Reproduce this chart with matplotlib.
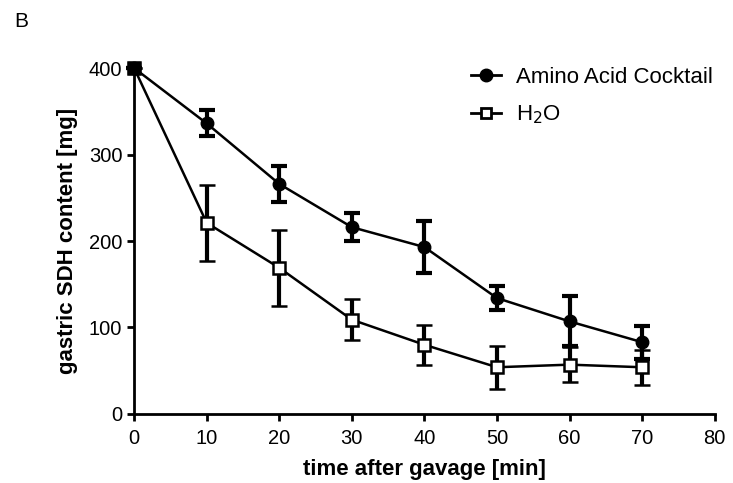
import matplotlib.pyplot as plt
from matplotlib.lines import Line2D

plt.rcParams['font.family'] = ['Liberation Sans', 'DejaVu Sans']

time_min = [0, 10, 20, 30, 40, 50, 60, 70]
amino = [400, 336, 266, 216, 193, 134, 107, 83]
amino_err = [0, 15, 21, 16, 30, 14, 29, 19]
water = [400, 221, 169, 109, 80, 54, 57, 54]
water_err = [0, 44, 44, 24, 23, 25, 20, 20]

fig = plt.figure(figsize=(7.33, 4.83), dpi=100)
ax = fig.add_axes([0.183, 0.143, 0.792, 0.716])

ax.errorbar(time_min, water, yerr=water_err, color='black', lw=1.8,
            elinewidth=3, capsize=6, capthick=3, marker='s', ms=8,
            mfc='white', mec='black', mew=1.8, clip_on=False, zorder=3)
ax.errorbar(time_min, amino, yerr=amino_err, color='black', lw=1.8,
            elinewidth=3, capsize=6, capthick=3, marker='o', ms=9,
            mfc='black', mec='black', clip_on=False, zorder=4)
# filled square at t=0 as in the original
ax.plot([0], [400], marker='s', ms=9, color='black', clip_on=False, zorder=5)

ax.set_xlim(0, 80)
ax.set_ylim(0, 400)
ax.set_xticks(range(0, 81, 10))
ax.set_yticks(range(0, 401, 100))
for s in ['top', 'right']:
    ax.spines[s].set_visible(False)
for s in ['left', 'bottom']:
    ax.spines[s].set_linewidth(2)
ax.tick_params(width=2, length=5, labelsize=14.5)
ax.tick_params(axis='x', pad=6)
ax.set_xlabel('time after gavage [min]', fontsize=16, fontweight='bold',
              labelpad=8)
ax.set_ylabel('gastric SDH content [mg]', fontsize=16, fontweight='bold',
              labelpad=8)

handles = [
    Line2D([], [], color='black', lw=2, marker='o', ms=9),
    Line2D([], [], color='black', lw=2, marker='s', ms=7, mfc='white', mew=2),
]
ax.legend(handles, ['Amino Acid Cocktail', 'H$_2$O'], loc='upper left',
          bbox_to_anchor=(0.561, 1.035), frameon=False, fontsize=16,
          borderpad=0, handlelength=1.35, handletextpad=0.7,
          labelspacing=0.69)

fig.text(0.02, 0.945, 'B', fontsize=15)

fig.savefig('out.png', dpi=100)
